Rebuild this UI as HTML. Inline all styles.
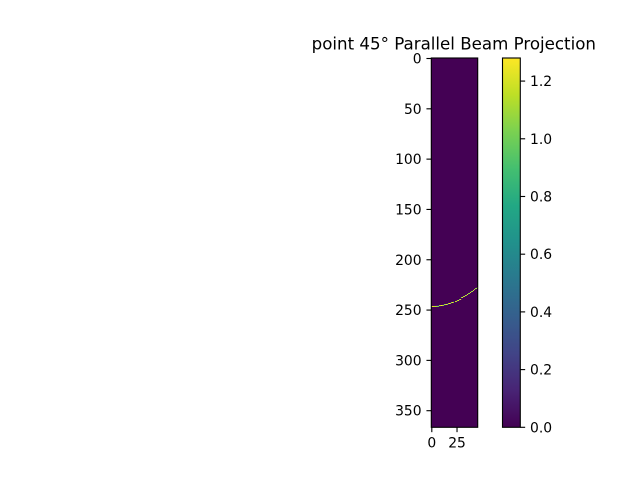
<!DOCTYPE html>
<html>
<head>
<meta charset="utf-8">
<title>point 45° Parallel Beam Projection</title>
<style>
html,body{margin:0;padding:0;background:#fff;}
svg{display:block;}
text{font-family:"DejaVu Sans",sans-serif;fill:#000;}
</style>
</head>
<body>
<svg id="figure" xmlns="http://www.w3.org/2000/svg" width="640" height="480" viewBox="0 0 640 480">
  <defs>
    <linearGradient id="viridis-gradient" x1="0" y1="1" x2="0" y2="0">
      <stop offset="0" stop-color="#440154"/>
      <stop offset="0.1" stop-color="#482475"/>
      <stop offset="0.2" stop-color="#414487"/>
      <stop offset="0.3" stop-color="#355f8d"/>
      <stop offset="0.4" stop-color="#2a788e"/>
      <stop offset="0.5" stop-color="#21918c"/>
      <stop offset="0.6" stop-color="#22a884"/>
      <stop offset="0.7" stop-color="#44bf70"/>
      <stop offset="0.8" stop-color="#7ad151"/>
      <stop offset="0.9" stop-color="#bddf26"/>
      <stop offset="1" stop-color="#fde725"/>
    </linearGradient>
  </defs>
  <text x="453.8" y="49.3" font-size="16.67" text-anchor="middle">point 45° Parallel Beam Projection</text>
  <rect x="431.3" y="58" width="46.4" height="369.3" fill="#440154"/>
  <g id="heatmap-cells"></g>
  <rect x="431.3" y="58" width="46.4" height="369.3" fill="none" stroke="#000" stroke-width="1.11"/>
  <g id="heatmap-axes"></g>
  <rect x="502.5" y="58" width="17.8" height="369.3" fill="url(#viridis-gradient)" stroke="#000" stroke-width="1.11"/>
  <g id="colorbar-axis"></g>
</svg>
<script>
var rowCount = 367;
var colCount = 46;
var maxValue = 1.28;
var peakRows = [245.9,245.9,245.9,245.8,245.8,245.7,245.6,245.5,245.3,245.2,245.0,244.8,244.6,244.4,244.2,243.9,243.6,243.3,243.0,242.7,242.3,242.0,241.6,241.2,240.8,240.3,239.9,239.4,238.9,238.4,237.9,237.3,236.8,236.2,235.6,235.0,234.4,233.7,233.1,232.4,231.7,230.9,230.2,229.4,228.7,227.9];
var yTicks = [0,50,100,150,200,250,300,350];
var xTicks = [0,25];
var colorTicks = [0.0,0.2,0.4,0.6,0.8,1.0,1.2];
var colorTickLabels = ["0.0","0.2","0.4","0.6","0.8","1.0","1.2"];
var viridisStops = ["#440154","#482475","#414487","#355f8d","#2a788e","#21918c","#22a884","#44bf70","#7ad151","#bddf26","#fde725"];

var NS = "http://www.w3.org/2000/svg";
var plotLeft = 431.3, plotRight = 477.7, plotTop = 58, plotBottom = 427.3;
var barRight = 520.3;

function xScale(col){ return plotLeft + (col + 0.5) * (plotRight - plotLeft) / colCount; }
function yScale(row){ return plotTop + (row + 0.5) * (plotBottom - plotTop) / rowCount; }
function colorScale(v){ return plotBottom - (v / maxValue) * (plotBottom - plotTop); }
function hexToRgb(h){ return [parseInt(h.substr(1,2),16),parseInt(h.substr(3,2),16),parseInt(h.substr(5,2),16)]; }
function viridis(t){
  var p = Math.max(0, Math.min(1, t)) * (viridisStops.length - 1);
  var i = Math.min(Math.floor(p), viridisStops.length - 2);
  var a = hexToRgb(viridisStops[i]), b = hexToRgb(viridisStops[i + 1]), f = p - i;
  return "rgb(" + Math.round(a[0]+(b[0]-a[0])*f) + "," + Math.round(a[1]+(b[1]-a[1])*f) + "," + Math.round(a[2]+(b[2]-a[2])*f) + ")";
}

var cells = document.getElementById("heatmap-cells");
peakRows.forEach(function(peak, col){
  var lower = Math.floor(peak);
  var frac = peak - lower;
  var dominantRow = frac < 0.5 ? lower : lower + 1;
  var minorRow = frac < 0.5 ? lower + 1 : lower;
  var dominant = Math.max(frac, 1 - frac);
  var minor = 1 - dominant;
  [[minorRow, minor * 0.2], [dominantRow, 0.78 + (dominant - 0.5) * 0.44]].forEach(function(pair){
    var rect = document.createElementNS(NS, "rect");
    
    
    rect.setAttribute("x", Math.floor(xScale(col)));
    rect.setAttribute("y", Math.floor(yScale(pair[0])));
    rect.setAttribute("width", 1);
    rect.setAttribute("height", 1);
    rect.setAttribute("fill", viridis(pair[1]));
    cells.appendChild(rect);
  });
});

var axes = document.getElementById("heatmap-axes");
yTicks.forEach(function(v){
  var y = yScale(v);
  var tick = document.createElementNS(NS, "line");
  
  
  tick.setAttribute("x1", plotLeft);
  tick.setAttribute("x2", plotLeft - 4.86);
  tick.setAttribute("y1", y);
  tick.setAttribute("y2", y);
  tick.setAttribute("stroke", "#000");
  tick.setAttribute("stroke-width", "1.11");
  axes.appendChild(tick);
  var label = document.createElementNS(NS, "text");
  
  
  label.setAttribute("x", plotLeft - 9.7);
  label.setAttribute("y", y + 5.05);
  label.setAttribute("font-size", "13.89");
  label.setAttribute("text-anchor", "end");
  label.textContent = String(v);
  axes.appendChild(label);
});
xTicks.forEach(function(v){
  var x = xScale(v);
  var tick = document.createElementNS(NS, "line");
  
  
  tick.setAttribute("x1", x);
  tick.setAttribute("x2", x);
  tick.setAttribute("y1", plotBottom);
  tick.setAttribute("y2", plotBottom + 4.86);
  tick.setAttribute("stroke", "#000");
  tick.setAttribute("stroke-width", "1.11");
  axes.appendChild(tick);
  var label = document.createElementNS(NS, "text");
  
  
  label.setAttribute("x", x);
  label.setAttribute("y", plotBottom + 20);
  label.setAttribute("font-size", "13.89");
  label.setAttribute("text-anchor", "middle");
  label.textContent = String(v);
  axes.appendChild(label);
});

var colorAxis = document.getElementById("colorbar-axis");
colorTicks.forEach(function(v, i){
  var y = colorScale(v);
  var tick = document.createElementNS(NS, "line");
  
  
  tick.setAttribute("x1", barRight);
  tick.setAttribute("x2", barRight + 4.86);
  tick.setAttribute("y1", y);
  tick.setAttribute("y2", y);
  tick.setAttribute("stroke", "#000");
  tick.setAttribute("stroke-width", "1.11");
  colorAxis.appendChild(tick);
  var label = document.createElementNS(NS, "text");
  
  
  label.setAttribute("x", barRight + 9.7);
  label.setAttribute("y", y + 5.05);
  label.setAttribute("font-size", "13.89");
  label.textContent = colorTickLabels[i];
  colorAxis.appendChild(label);
});
</script>
</body>
</html>
